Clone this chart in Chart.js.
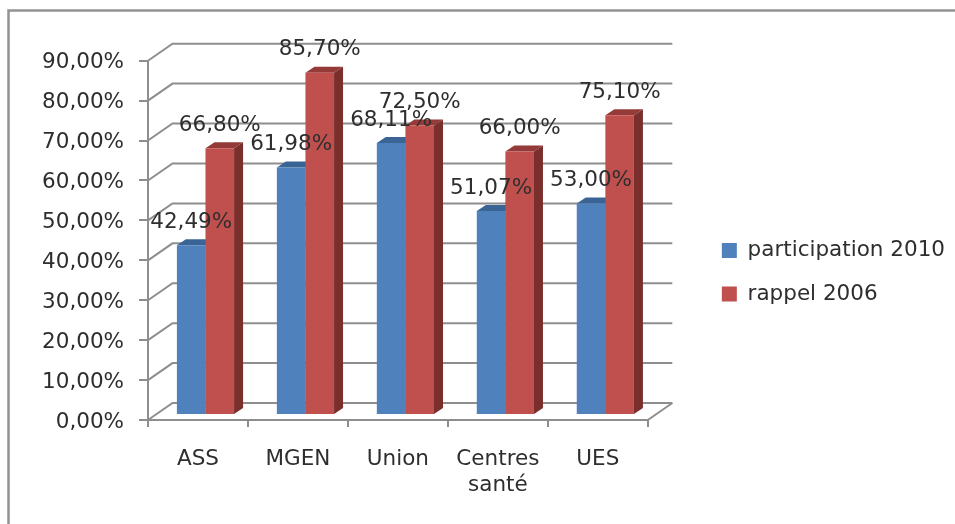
<!DOCTYPE html>
<html>
<head>
<meta charset="utf-8">
<style>
  html, body { margin: 0; padding: 0; background: #fff; }
  canvas { display: block; }
</style>
<script src="https://cdn.jsdelivr.net/npm/chart.js@4/dist/chart.umd.min.js"></script>
</head>
<body>
<canvas id="chart" width="955" height="524"></canvas>
<script>
const categories = ['ASS', 'MGEN', 'Union', ['Centres', 'santé'], 'UES'];
const participation2010 = [42.49, 61.98, 68.11, 51.07, 53.00];
const rappel2006 = [66.80, 85.70, 72.50, 66.00, 75.10];
const yMax = 90;
const yStep = 10;

const FONT = '"DejaVu Sans", sans-serif';
const GRID = '#8e8e8e';
const TEXT = '#2e2e2e';
const DEPTH_X = 24.5, DEPTH_Y = -17;   // side walls
const BAR_DX = 7.5, BAR_DY = -5;       // bars stand a little behind the front plane
const BAR_DEPTH_X = 9, BAR_DEPTH_Y = -6;
const LEGEND_SHIFT = -18;

const percent = v => v.toFixed(2).replace('.', ',') + '%';

function poly(ctx, pts, fill) {
    ctx.fillStyle = fill;
    ctx.beginPath();
    pts.forEach((p, i) => i ? ctx.lineTo(p[0], p[1]) : ctx.moveTo(p[0], p[1]));
    ctx.closePath();
    ctx.fill();
}

const walls3d = {
    id: 'walls3d',
    afterLayout(chart) {
        chart.legend.top += LEGEND_SHIFT;
        chart.legend.bottom += LEGEND_SHIFT;
    },
    beforeDatasetsDraw(chart) {
        const { ctx, chartArea, scales } = chart;
        ctx.save();
        ctx.strokeStyle = GRID;
        ctx.lineWidth = 2;
        scales.y.ticks.forEach(t => {
            const y = scales.y.getPixelForValue(t.value);
            ctx.beginPath();
            ctx.moveTo(chartArea.left, y);
            ctx.lineTo(chartArea.left + DEPTH_X, y + DEPTH_Y);
            ctx.lineTo(chartArea.right + DEPTH_X, y + DEPTH_Y);
            ctx.stroke();
        });
        // floor, right edge
        ctx.beginPath();
        ctx.moveTo(chartArea.right, chartArea.bottom);
        ctx.lineTo(chartArea.right + DEPTH_X, chartArea.bottom + DEPTH_Y);
        ctx.stroke();
        ctx.restore();

        // bars are pushed back, with their side and top faces
        ctx.save();
        ctx.translate(BAR_DX, BAR_DY);
        chart.data.datasets.forEach((ds, i) => {
            chart.getDatasetMeta(i).data.forEach(bar => {
                const l = bar.x - bar.width / 2, r = bar.x + bar.width / 2;
                poly(ctx, [[l, bar.y], [r, bar.y], [r + BAR_DEPTH_X, bar.y + BAR_DEPTH_Y], [l + BAR_DEPTH_X, bar.y + BAR_DEPTH_Y]], ds.topColor);
                poly(ctx, [[r, bar.y], [r + BAR_DEPTH_X, bar.y + BAR_DEPTH_Y], [r + BAR_DEPTH_X, bar.base + BAR_DEPTH_Y], [r, bar.base]], ds.sideColor);
            });
        });
    },
    afterDatasetsDraw(chart) {
        const { ctx } = chart;
        ctx.restore();
        ctx.save();
        ctx.font = '21.5px ' + FONT;
        ctx.fillStyle = TEXT;
        ctx.textAlign = 'center';
        ctx.textBaseline = 'middle';
        chart.data.datasets.forEach((ds, i) => {
            chart.getDatasetMeta(i).data.forEach((bar, j) => {
                ctx.fillText(percent(ds.data[j]), bar.x + BAR_DX, bar.y + BAR_DY - 23);
            });
        });
        ctx.restore();
    }
};

// border of the picture, top and left only
const frame = {
    id: 'frame',
    beforeDraw(chart) {
        const { ctx } = chart;
        ctx.save();
        ctx.strokeStyle = '#929292';
        ctx.lineWidth = 2.5;
        ctx.beginPath();
        ctx.moveTo(8.5, 524);
        ctx.lineTo(8.5, 10.5);
        ctx.lineTo(955, 10.5);
        ctx.stroke();
        ctx.restore();
    }
};

new Chart(document.getElementById('chart').getContext('2d'), {
    type: 'bar',
    data: {
        labels: categories,
        datasets: [
            { label: 'participation 2010', data: participation2010, backgroundColor: '#4f81bd', topColor: '#3a6496', sideColor: '#2f5480', clip: false },
            { label: 'rappel 2006', data: rappel2006, backgroundColor: '#c0504d', topColor: '#943b39', sideColor: '#7a2f2d', clip: false }
        ]
    },
    options: {
        responsive: false,
        animation: false,
        categoryPercentage: 0.572,
        barPercentage: 1,
        layout: { padding: { top: 60.7, bottom: 4, left: 0, right: 0 } },
        plugins: {
            tooltip: { enabled: false },
            legend: {
                position: 'right',
                maxWidth: 257,
                labels: {
                    boxWidth: 15,
                    boxHeight: 15,
                    padding: 22,
                    color: TEXT,
                    font: { family: FONT, size: 21.5 }
                }
            }
        },
        scales: {
            x: {
                afterFit: s => { s.height = 100; },
                border: { display: true, color: GRID, width: 2 },
                grid: { offset: true, drawOnChartArea: false, color: GRID, lineWidth: 2, tickLength: 7 },
                ticks: { color: TEXT, padding: 20, maxRotation: 0, autoSkip: false, font: { family: FONT, size: 21.5 } }
            },
            y: {
                min: 0,
                max: yMax,
                afterFit: s => { s.width = 148; },
                border: { display: true, color: GRID, width: 2 },
                grid: { drawOnChartArea: false, color: GRID, lineWidth: 2, tickLength: 9 },
                ticks: { stepSize: yStep, color: TEXT, padding: 15, labelOffset: 2, font: { family: FONT, size: 21.5 }, callback: v => percent(v) }
            },
            // empty axis, only keeps room between the floor and the legend
            spacer: {
                position: 'right',
                display: true,
                afterFit: s => { s.width = 52; },
                border: { display: false },
                grid: { display: false },
                ticks: { display: false }
            }
        }
    },
    plugins: [frame, walls3d]
});
</script>
</body>
</html>
